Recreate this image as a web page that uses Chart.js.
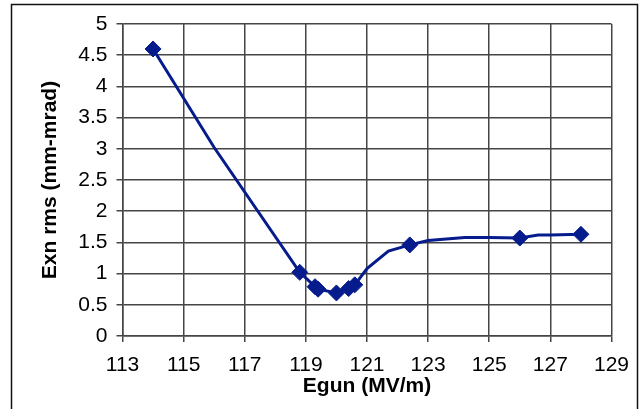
<!DOCTYPE html>
<html>
<head>
<meta charset="utf-8">
<script src="https://cdn.jsdelivr.net/npm/chart.js@4/dist/chart.umd.min.js"></script>
<style>
  html, body { margin: 0; padding: 0; background: #ffffff; }
  #wrap { width: 640px; height: 409px; }
</style>
</head>
<body>
<div id="wrap"><canvas id="c" width="640" height="409"></canvas></div>
<script>
// Measured emittance points (diamond markers)
const egunMeas = [114, 118.8, 119.3, 119.4, 120, 120.4, 120.6, 122.4, 126, 128];
const exnMeas  = [4.6, 1.02, 0.79, 0.75, 0.69, 0.76, 0.82, 1.46, 1.57, 1.63];

// Connecting curve (denser sampling)
const egunLine = [114, 116, 118.8, 119.3, 119.4, 120, 120.4, 120.6, 121, 121.7, 122.4, 123, 124.2, 125, 126, 126.6, 127, 128];
const exnLine  = [4.6, 3.02, 1.02, 0.79, 0.75, 0.69, 0.76, 0.82, 1.08, 1.36, 1.46, 1.53, 1.58, 1.58, 1.57, 1.62, 1.62, 1.63];

// Axis ticks
const xTicks = [113, 115, 117, 119, 121, 123, 125, 127, 129];
const yTicks = [0, 0.5, 1, 1.5, 2, 2.5, 3, 3.5, 4, 4.5, 5];

const navy = '#061C8C';
const gridColor = '#454545';
const fontFamily = '"Liberation Sans", Arial, sans-serif';

const pairs = (xs, ys) => xs.map((x, i) => ({ x: x, y: ys[i] }));

// Outer frame and white background
const framePlugin = {
  id: 'frame',
  beforeDraw(chart) {
    const ctx = chart.ctx;
    ctx.save();
    ctx.fillStyle = '#ffffff';
    ctx.fillRect(0, 0, chart.width, chart.height);
    ctx.strokeStyle = '#111111';
    ctx.lineWidth = 1.5;
    ctx.strokeRect(11.5, 4.5, 626, 430);
    ctx.restore();
  }
};

new Chart(document.getElementById('c'), {
  type: 'line',
  data: {
    datasets: [
      {
        data: pairs(egunMeas, exnMeas),
        showLine: false,
        pointStyle: 'rectRot',
        pointRadius: 8,
        pointHoverRadius: 8,
        pointBackgroundColor: navy,
        pointBorderColor: navy,
        pointBorderWidth: 1
      },
      {
        data: pairs(egunLine, exnLine),
        borderColor: navy,
        borderWidth: 3,
        tension: 0,
        pointRadius: 0,
        fill: false
      }
    ]
  },
  options: {
    responsive: false,
    animation: false,
    events: [],
    layout: { padding: { left: 0, right: 22, top: 24, bottom: 0 } },
    plugins: { legend: { display: false }, tooltip: { enabled: false } },
    scales: {
      x: {
        type: 'linear',
        min: 113,
        max: 129,
        afterBuildTicks(scale) { scale.ticks = xTicks.map(v => ({ value: v })); },
        afterFit(scale) { scale.height = 73; },
        grid: { color: gridColor, lineWidth: 1.5, tickLength: 6, tickColor: gridColor },
        border: { color: gridColor, width: 1.5 },
        ticks: { color: '#000000', padding: 11, maxRotation: 0, font: { family: fontFamily, size: 21 },
                 callback: v => String(v) },
        title: {
          display: true,
          text: 'Egun (MV/m)',
          color: '#000000',
          padding: { top: 0, bottom: 10 },
          font: { family: fontFamily, size: 21, weight: 'bold' }
        }
      },
      y: {
        type: 'linear',
        min: 0,
        max: 5,
        afterBuildTicks(scale) { scale.ticks = yTicks.map(v => ({ value: v })); },
        afterFit(scale) { scale.width = 122.5; },
        grid: { color: gridColor, lineWidth: 1.5, tickLength: 6, tickColor: gridColor },
        border: { color: gridColor, width: 1.5 },
        ticks: { color: '#000000', padding: 9, font: { family: fontFamily, size: 21 },
                 callback: v => String(v) },
        title: {
          display: true,
          text: 'Exn rms (mm-mrad)',
          color: '#000000',
          padding: { top: 38, bottom: 0 },
          font: { family: fontFamily, size: 21, weight: 'bold' }
        }
      }
    }
  },
  plugins: [framePlugin]
});
</script>
</body>
</html>
